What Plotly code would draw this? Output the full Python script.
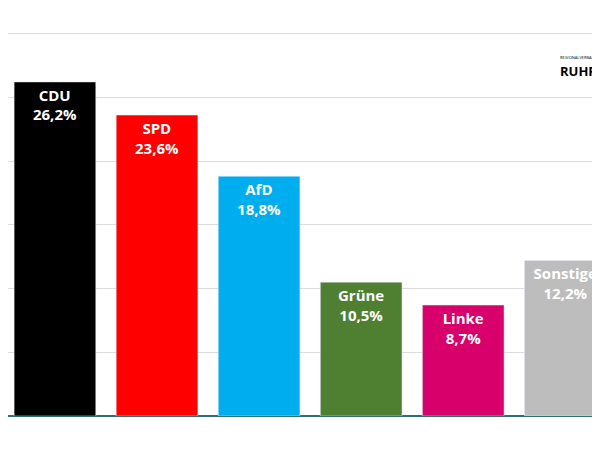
import plotly.graph_objects as go

parties = ["CDU", "SPD", "AfD", "Grüne", "Linke", "Sonstige"]
shares = [26.2, 23.6, 18.8, 10.5, 8.7, 12.2]
colors = ["#000000", "#ff0000", "#00aeef", "#4f7f31", "#d8006a", "#bdbdbd"]

labels = [f"{p}<br>{str(v).replace('.', ',')}%" for p, v in zip(parties, shares)]

fig = go.Figure(go.Bar(
    x=list(range(len(parties))), y=shares, marker_color=colors, width=0.8,
    text=labels, textposition="inside", insidetextanchor="end",
    textfont=dict(family="Open Sans", size=15, color="white", weight="bold"),
    textangle=0, cliponaxis=False,
))

fig.update_layout(
    width=592, height=442, margin=dict(l=0, r=0, t=0, b=34),
    plot_bgcolor="white", paper_bgcolor="white", showlegend=False,
    uniformtext=dict(minsize=15, mode="show"),
    xaxis=dict(range=[-0.46, 5.34], showticklabels=False, showgrid=False, zeroline=False),
    yaxis=dict(range=[0, 32.0], dtick=5, showticklabels=False, gridcolor="#dddddd",
               zeroline=True, zerolinecolor="#2f6f73", zerolinewidth=2),
)
fig.add_annotation(x=1.0, y=0.89, xref="paper", yref="paper", xanchor="right", yanchor="top",
                   text="<span style='font-size:4px'>REGIONALVERBAND</span><br><b>RUHR</b>",
                   showarrow=False, align="left", font=dict(family="Open Sans", size=13, color="black"))
fig.write_html("out.html")
